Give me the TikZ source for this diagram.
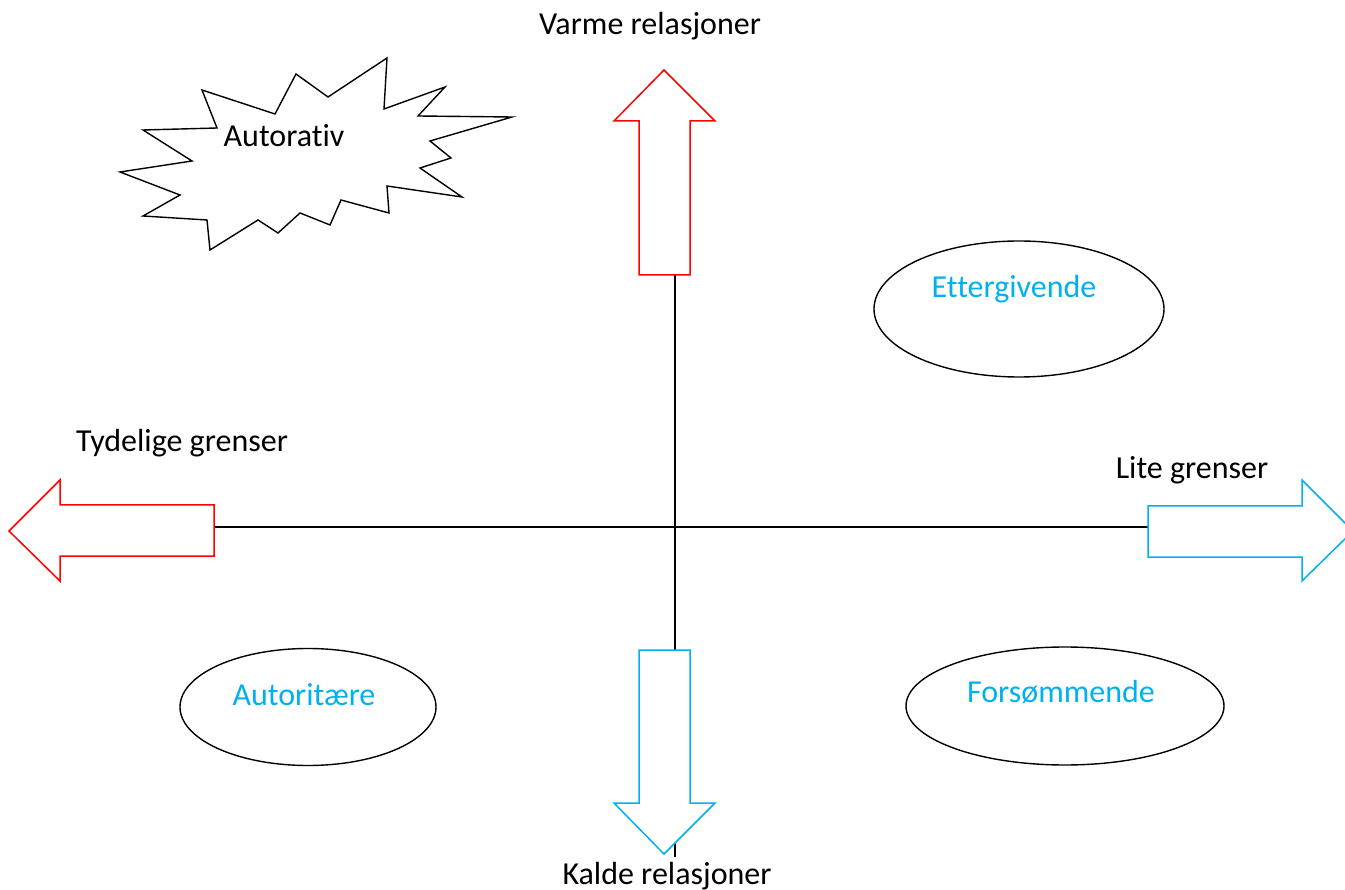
\documentclass[tikz,border=0pt]{standalone}
\usepackage{fontspec}
\setmainfont{Carlito}[Ligatures={NoCommon}]
\usetikzlibrary{shapes.geometric}
\definecolor{warm}{RGB}{255,0,0}
\definecolor{cold}{RGB}{0,176,240}
\tikzset{
  blockarrow/.style={draw=#1, line width=1.5pt, fill=white, line join=miter},
  type/.style={ellipse, draw, line width=1.4pt, inner sep=0pt},
  word/.style={font=\fontsize{32}{37}\selectfont, inner sep=0pt, anchor=base},
}
\begin{document}
\begin{tikzpicture}[x=1pt,y=-1pt]
  \useasboundingbox (0,0) rectangle (1345,890);
  \clip (0,0) rectangle (1345,890);
  % axes
  \coordinate (top) at (675,275);
  \coordinate (bottom) at (675,857);
  \coordinate (left) at (214,527);
  \coordinate (right) at (1148,527);
  \draw[line width=1.4pt] (top) -- (bottom);
  \draw[line width=1.4pt] (left) -- (right);
  % block arrows
  \draw[blockarrow=warm] (639,275) -- (639,121) -- (614,121) -- (664,70)
    -- (715,121) -- (690,121) -- (690,275) -- cycle;
  \draw[blockarrow=cold] (639,650) -- (639,803) -- (614,803) -- (664,854)
    -- (715,803) -- (690,803) -- (690,650) -- cycle;
  \draw[blockarrow=warm] (214,505) -- (60,505) -- (60,480) -- (9,531)
    -- (60,581) -- (60,556) -- (214,556) -- cycle;
  \draw[blockarrow=cold] (1148,506) -- (1302,506) -- (1302,480) -- (1353,531)
    -- (1302,581) -- (1302,557) -- (1148,557) -- cycle;
  % axis labels
  \node[word] (warmlabel) at (650,35) {Varme relasjoner};
  \node[word] (coldlabel) at (667,884) {Kalde relasjoner};
  \node[word] (strictlabel) at (182,452) {Tydelige grenser};
  \node[word] (looselabel) at (1192,479) {Lite grenser};
  % explosion
  \draw[line width=1.4pt, line join=miter] (202,90) -- (275,114) -- (296,74)
    -- (328,97) -- (387,58) -- (384,109) -- (445,87) -- (418,116)
    -- (512,117) -- (430,141) -- (451,158) -- (420,168) -- (462,197)
    -- (387,186) -- (389,213) -- (341,200) -- (330,225) -- (300,213)
    -- (278,233) -- (258,220) -- (210,250) -- (207,220) -- (143,216)
    -- (180,195) -- (120,172) -- (192,161) -- (143,130) -- (217,128) -- cycle;
  \node[word] (autorativ) at (284,147) {Autorativ};
  % parenting types
  \node[type, minimum width=290, minimum height=136] (ettergivende) at (1019,309) {};
  \node[type, minimum width=256, minimum height=117] (autoritaere) at (308,707) {};
  \node[type, minimum width=318, minimum height=118] (forsommende) at (1065,706) {};
  \node[word, text=cold] at (1014,298) {Ettergivende};
  \node[word, text=cold] at (304,705) {Autoritære};
  \node[word, text=cold] at (1061,702) {Forsømmende};
\end{tikzpicture}
\end{document}
